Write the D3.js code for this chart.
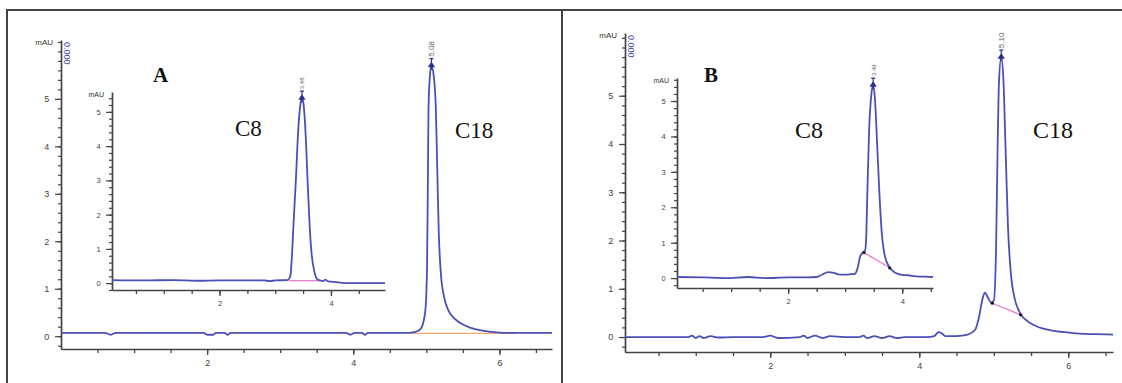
<!DOCTYPE html>
<html>
<head>
<meta charset="utf-8">
<script src="https://cdn.jsdelivr.net/npm/d3@7"></script>
<style>
	body { margin: 0; background: #fff; }
	svg { display: block; font-family: 'Liberation Sans', Arial, sans-serif; }
	.tick text { fill: #444; }
	.axis path, .axis line { stroke: #444; }
</style>
</head>
<body>
<div id="chart"></div>
<script>
// retention time (min), absorbance (mAU)
let mainA = [
	[0.0,0.07],[0.6,0.07],[0.68,0.03],[0.75,0.07],[1.95,0.07],[2.0,0.03],[2.08,0.03],[2.12,0.07],
	[2.24,0.07],[2.28,0.03],[2.32,0.07],[3.9,0.07],[3.96,0.03],[4.02,0.07],[4.12,0.07],[4.16,0.03],
	[4.2,0.07],[4.75,0.07],[4.85,0.09],[4.92,0.15],[4.96,0.3],[4.99,0.6],[5.01,1.5],[5.02,3.0],
	[5.03,4.8],[5.05,5.5],[5.07,5.7],[5.1,5.5],[5.13,4.8],[5.15,3.5],[5.17,2.2],[5.2,1.3],
	[5.24,0.85],[5.3,0.55],[5.38,0.38],[5.47,0.27],[5.6,0.18],[5.75,0.12],[5.9,0.09],[6.1,0.07],
	[6.3,0.07],[6.72,0.07]
]
let insetA = [
	[0.07,0.09],[0.6,0.08],[1.2,0.09],[1.6,0.07],[2.0,0.08],[2.8,0.08],[2.9,0.06],[3.0,0.08],
	[3.22,0.09],[3.27,0.2],[3.3,0.8],[3.33,1.8],[3.37,3.0],[3.41,4.4],[3.45,5.2],[3.48,5.4],
	[3.51,5.2],[3.55,4.2],[3.58,3.0],[3.62,1.6],[3.65,0.9],[3.7,0.35],[3.75,0.12],[3.8,0.08],
	[3.86,0.06],[3.9,0.1],[3.95,0.05],[4.1,0.03],[4.3,0.0],[4.97,0.0]
]
let mainB = [
	[0.05,0.0],[0.9,0.0],[0.95,0.03],[1.0,-0.02],[1.05,0.02],[1.1,-0.02],[1.2,0.02],[1.3,-0.01],
	[1.5,0.0],[1.9,0.0],[2.0,0.03],[2.1,-0.02],[2.4,0.0],[2.45,0.03],[2.5,-0.02],[2.6,0.03],
	[2.7,-0.02],[2.8,0.02],[3.0,0.0],[3.2,0.0],[3.25,0.03],[3.3,-0.02],[3.4,0.02],[3.5,-0.02],
	[3.6,0.02],[3.7,-0.02],[3.8,0.0],[4.1,0.0],[4.2,0.02],[4.26,0.1],[4.3,0.08],[4.35,0.02],
	[4.5,0.02],[4.65,0.05],[4.75,0.15],[4.8,0.4],[4.85,0.8],[4.88,0.92],[4.92,0.82],[4.96,0.72],
	[5.0,0.75],[5.03,1.8],[5.05,3.8],[5.07,5.3],[5.1,5.8],[5.13,5.3],[5.16,3.8],[5.19,2.3],
	[5.23,1.3],[5.28,0.8],[5.36,0.48],[5.45,0.33],[5.55,0.24],[5.65,0.18],[5.8,0.13],[5.95,0.1],
	[6.15,0.07],[6.35,0.06],[6.6,0.05]
]
let insetB = [
	[0.05,0.03],[0.5,0.02],[0.9,0.0],[1.3,0.03],[1.6,0.0],[2.0,0.02],[2.3,0.02],[2.5,0.03],
	[2.6,0.1],[2.7,0.17],[2.8,0.15],[2.9,0.1],[3.0,0.1],[3.1,0.11],[3.17,0.12],[3.22,0.3],
	[3.26,0.6],[3.31,0.73],[3.35,0.78],[3.37,1.2],[3.39,2.5],[3.42,4.2],[3.46,5.2],[3.49,5.45],
	[3.52,5.1],[3.56,3.8],[3.6,2.4],[3.64,1.3],[3.68,0.75],[3.73,0.45],[3.78,0.3],[3.85,0.18],
	[3.93,0.12],[4.0,0.09],[4.1,0.08],[4.25,0.05],[4.4,0.04],[4.54,0.03]
]

// integration baselines drawn under the peaks
let baseMainA = [[4.78,0.06],[6.22,0.06]]
let baseInsetA = [[3.25,0.07],[3.8,0.07]]
let baseMainB = [[4.98,0.7],[5.36,0.46]]
let baseInsetB = [[3.33,0.72],[3.78,0.29]]

let peakLabels = ['5.08', '3.48', '5.10', '3.49']
let xTickLabelsMain = [2, 4, 6]
let xTickLabelsInset = [2, 4]
let yTickLabels = [0, 1, 2, 3, 4, 5]

let width = 1122
let height = 383
let traceColor = '#4b4fb8'

let svg = d3.select('#chart').append('svg')
	.attr('width', width)
	.attr('height', height)

// panel frame
svg.append('path')
	.attr('d', 'M7,383 V10 H1122 M562,10 V383')
	.attr('fill', 'none')
	.attr('stroke', '#444')
	.attr('stroke-width', 2)

function drawChrom(o) {
	let x = d3.scaleLinear().domain(o.xDom).range(o.xRange)
	let y = d3.scaleLinear().domain(o.yDom).range(o.yRange)
	let g = svg.append('g')
	let fs = o.inset ? 7.5 : 9

	if (o.inset) {
		g.append('rect')
			.attr('x', o.xRange[0] - 30).attr('y', o.yRange[1] - 8)
			.attr('width', o.xRange[1] - o.xRange[0] + 32)
			.attr('height', o.yRange[0] - o.yRange[1] + 30)
			.attr('fill', '#fff')
	}

	let xBase = o.yRange[0]
	let yBase = o.xRange[0]

	let minorX = d3.range(0.5, o.xDom[1], 0.5)
	g.append('g').attr('class', 'axis')
		.attr('transform', `translate(0,${xBase})`)
		.call(d3.axisBottom(x).tickValues(minorX).tickSize(4).tickSizeOuter(0).tickFormat(''))
		.call(s => s.select('.domain').attr('stroke-width', 1.7))
		.call(s => s.selectAll('line').attr('stroke-width', 1.3))
	g.append('g').attr('class', 'axis')
		.attr('transform', `translate(0,${xBase})`)
		.call(d3.axisBottom(x).tickValues(o.xLabels).tickSize(6).tickFormat(d3.format('d')))
		.call(s => s.select('.domain').remove())
		.call(s => s.selectAll('line').attr('stroke-width', 1.3))
		.call(s => s.selectAll('text').attr('font-size', fs).attr('dy', '0.9em'))

	let minorY = d3.range(-0.2, o.yDom[1], 0.2)
	g.append('g').attr('class', 'axis')
		.attr('transform', `translate(${yBase},0)`)
		.call(d3.axisLeft(y).tickValues(minorY).tickSize(3).tickSizeOuter(0).tickFormat(''))
		.call(s => s.select('.domain').attr('stroke-width', 1.7))
		.call(s => s.selectAll('line').attr('stroke-width', 1.2))
	g.append('g').attr('class', 'axis')
		.attr('transform', `translate(${yBase},0)`)
		.call(d3.axisLeft(y).tickValues(yTickLabels).tickSize(6).tickFormat(d3.format('d')))
		.call(s => s.select('.domain').remove())
		.call(s => s.selectAll('line').attr('stroke-width', 1.2))
		.call(s => s.selectAll('text').attr('font-size', fs).attr('dx', '-0.3em'))

	g.append('text')
		.text('mAU')
		.attr('x', yBase - 8)
		.attr('y', o.yRange[1] + 5)
		.attr('text-anchor', 'end')
		.attr('font-size', o.inset ? 7 : 8)
		.attr('fill', '#333')

	if (!o.inset) {
		// blue marker stack at the top of the axis
		g.append('text')
			.text('0.000')
			.attr('transform', `translate(${yBase + 3},${o.yRange[1] + 2}) rotate(90)`)
			.attr('font-size', 9)
			.attr('fill', '#3d44b0')
	}

	let line = d3.line()
		.x(d => x(d[0]))
		.y(d => y(d[1]))
		.curve(d3.curveMonotoneX)

	g.append('path')
		.datum(o.base)
		.attr('d', d3.line().x(d => x(d[0])).y(d => y(d[1])))
		.attr('fill', 'none')
		.attr('stroke', o.baseColor)
		.attr('stroke-width', 1.3)

	g.append('path')
		.datum(o.trace)
		.attr('d', line)
		.attr('fill', 'none')
		.attr('stroke', traceColor)
		.attr('stroke-width', 1.8)
		.attr('stroke-linejoin', 'round')

	if (o.dots) {
		g.selectAll('.dot').data(o.base).enter().append('circle')
			.attr('cx', d => x(d[0])).attr('cy', d => y(d[1]))
			.attr('r', 1.6).attr('fill', '#111')
	}

	// apex marker and retention-time label
	let apex = o.trace.reduce((a, b) => b[1] > a[1] ? b : a)
	let ax = x(apex[0])
	let ay = y(apex[1])
	g.append('path')
		.attr('d', `M${ax},${ay + 4} V${ay - 7} M${ax - 2},${ay - 7} H${ax + 2} M${ax - 2.5},${ay + 1} L${ax},${ay - 3} L${ax + 2.5},${ay + 1}Z`)
		.attr('stroke', '#2a2f8f')
		.attr('fill', '#2a2f8f')
		.attr('stroke-width', 1.2)
	g.append('text')
		.text(o.peakLabel)
		.attr('transform', `translate(${ax + 2.5},${ay - 9}) rotate(-90)`)
		.attr('font-size', o.inset ? 6 : 8)
		.attr('fill', '#666')
}

drawChrom({ trace: mainA, base: baseMainA, baseColor: '#f0a868', xDom: [0, 6.72], xRange: [61, 552],
	yDom: [-0.27, 6.24], yRange: [349, 40], xLabels: xTickLabelsMain, peakLabel: peakLabels[0] })
drawChrom({ trace: insetA, base: baseInsetA, baseColor: '#e57ac8', xDom: [0.07, 4.97], xRange: [112, 385],
	yDom: [-0.2, 5.58], yRange: [290, 92], xLabels: xTickLabelsInset, peakLabel: peakLabels[1], inset: true })
drawChrom({ trace: mainB, base: baseMainB, baseColor: '#e57ac8', xDom: [0.05, 6.6], xRange: [625, 1113],
	yDom: [-0.31, 6.3], yRange: [352, 33], xLabels: xTickLabelsMain, peakLabel: peakLabels[2], dots: true })
drawChrom({ trace: insetB, base: baseInsetB, baseColor: '#e57ac8', xDom: [0.05, 4.54], xRange: [677, 933],
	yDom: [-0.28, 5.65], yRange: [288, 78], xLabels: xTickLabelsInset, peakLabel: peakLabels[3], inset: true, dots: true })

let labels = svg.append('g')
	.attr('font-family', "'Liberation Serif', 'Times New Roman', serif")
	.attr('fill', '#111')

labels.append('text').text('A').attr('x', 153).attr('y', 82).attr('font-size', 21).attr('font-weight', 'bold')
labels.append('text').text('B').attr('x', 704).attr('y', 82).attr('font-size', 21).attr('font-weight', 'bold')
labels.append('text').text('C8').attr('x', 235).attr('y', 136).attr('font-size', 23)
labels.append('text').text('C18').attr('x', 455).attr('y', 138).attr('font-size', 23)
labels.append('text').text('C8').attr('x', 795).attr('y', 138).attr('font-size', 24)
labels.append('text').text('C18').attr('x', 1033).attr('y', 138).attr('font-size', 24)
</script>
</body>
</html>
